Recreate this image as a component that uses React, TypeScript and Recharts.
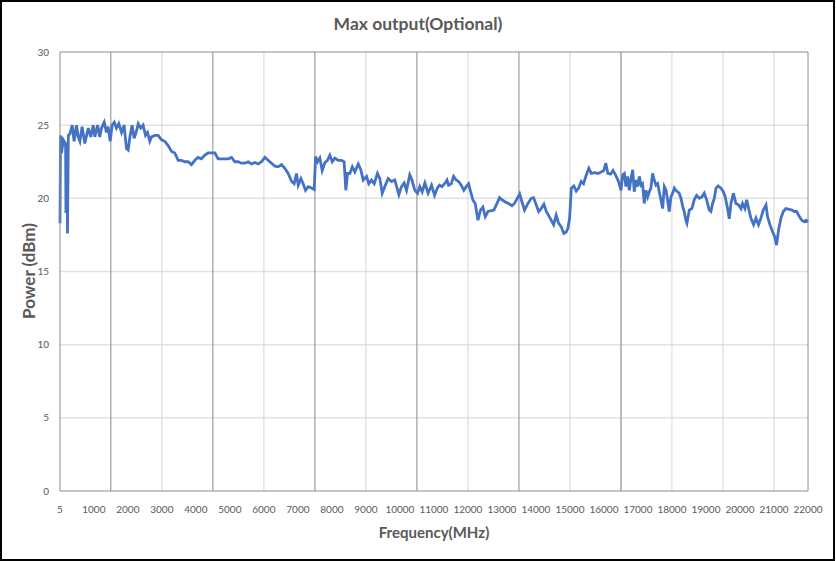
import { LineChart, Line, XAxis, YAxis, CartesianGrid } from "recharts";

const FREQ = [
  5, 20, 50, 100, 150, 170, 180, 200, 215, 225, 250, 295, 365, 420, 490, 540, 590, 655, 735, 835,
  910, 980, 1030, 1110, 1175, 1225, 1305, 1370, 1420, 1480, 1540, 1600, 1665, 1735, 1815, 1890,
  1960, 2010, 2060, 2125, 2185, 2255, 2305, 2380, 2450, 2520, 2580, 2645, 2695, 2795, 2890, 2990,
  3085, 3185, 3285, 3380, 3480, 3575, 3675, 3775, 3870, 3970, 4065, 4165, 4265, 4360, 4460, 4560,
  4655, 4755, 4850, 4950, 5050, 5145, 5245, 5340, 5440, 5540, 5635, 5735, 5835, 5930, 6030, 6125,
  6225, 6325, 6420, 6520, 6615, 6715, 6815, 6890, 6960, 7010, 7090, 7155, 7225, 7305, 7400, 7480,
  7520, 7580, 7645, 7715, 7795, 7870, 7940, 8010, 8085, 8185, 8285, 8360, 8410, 8460, 8530, 8600,
  8675, 8775, 8850, 8920, 9020, 9085, 9165, 9245, 9340, 9410, 9480, 9555, 9655, 9755, 9850, 9970,
  10045, 10125, 10195, 10290, 10340, 10440, 10520, 10585, 10655, 10735, 10830, 10930, 11020, 11100,
  11165, 11235, 11315, 11385, 11430, 11510, 11580, 11655, 11725, 11805, 11880, 11950, 12020, 12080,
  12145, 12215, 12295, 12370, 12440, 12510, 12590, 12665, 12765, 12835, 12930, 13000, 13100, 13195,
  13295, 13370, 13450, 13520, 13590, 13665, 13765, 13860, 13930, 14010, 14080, 14155, 14235, 14305,
  14370, 14450, 14520, 14595, 14665, 14745, 14820, 14890, 14940, 14990, 15040, 15115, 15185, 15255,
  15330, 15400, 15480, 15555, 15625, 15725, 15820, 15920, 15995, 16055, 16115, 16195, 16265, 16340,
  16410, 16450, 16500, 16550, 16600, 16645, 16695, 16745, 16795, 16845, 16890, 16940, 16990, 17040,
  17090, 17135, 17185, 17235, 17285, 17335, 17380, 17430, 17480, 17530, 17580, 17625, 17675, 17725,
  17775, 17825, 17870, 17920, 17970, 18020, 18070, 18115, 18215, 18265, 18315, 18360, 18410, 18440,
  18510, 18585, 18655, 18725, 18805, 18880, 18950, 19020, 19095, 19145, 19195, 19245, 19295, 19360,
  19440, 19510, 19565, 19635, 19685, 19735, 19805, 19880, 19960, 20030, 20075, 20145, 20195, 20255,
  20320, 20400, 20470, 20545, 20615, 20685, 20765, 20810, 20880, 20960, 21020, 21075, 21135, 21205,
  21275, 21350, 21450, 21525, 21595, 21665, 21745, 21820, 21890, 21940, 22000,
];

const POWER = [
  18.3, 24.3, 23.1, 24.0, 23.8, 23.5, 19.0, 23.8, 23.5, 17.6, 24.3, 24.4, 25.0, 23.9, 25.0, 24.2, 23.9, 24.9, 23.75, 24.8,
  24.2, 25.0, 24.2, 25.0, 24.2, 24.8, 25.2, 24.5, 24.9, 23.9, 25.0, 25.2, 24.8, 25.1, 24.5, 25.0,
  23.4, 23.3, 24.2, 25.0, 24.1, 24.6, 25.1, 24.8, 25.0, 24.3, 24.5, 23.9, 24.2, 24.3, 24.3, 24.0,
  23.9, 23.6, 23.2, 23.1, 22.6, 22.6, 22.5, 22.5, 22.3, 22.6, 22.8, 22.7, 22.95, 23.1, 23.1, 23.1,
  22.7, 22.7, 22.7, 22.7, 22.8, 22.5, 22.5, 22.4, 22.4, 22.5, 22.35, 22.45, 22.35, 22.5, 22.8, 22.6,
  22.4, 22.2, 22.15, 22.3, 22.05, 21.7, 21.15, 21.0, 21.7, 20.9, 21.35, 21.0, 20.55, 20.8, 20.7, 20.6,
  22.85, 22.5, 22.75, 21.9, 22.45, 22.6, 22.95, 22.5, 22.75, 22.6, 22.6, 22.5, 20.55, 21.7, 21.7, 22.15,
  21.8, 22.35, 21.95, 21.25, 21.5, 21.0, 21.25, 21.0, 21.7, 21.35, 20.35, 20.8, 21.35, 21.15, 21.25, 20.25,
  20.8, 21.05, 20.55, 21.6, 21.35, 20.55, 20.35, 20.8, 20.45, 21.05, 20.35, 20.9, 20.2, 20.7,
  20.9, 20.8, 21.0, 21.25, 20.9, 21.0, 21.5, 21.25, 21.15, 20.9, 20.55, 20.8, 21.0, 20.45,
  19.9, 19.65, 18.5, 19.2, 19.4, 18.75, 19.1, 19.15, 19.2, 19.55, 20.05, 19.9, 19.75, 19.65,
  19.5, 19.65, 20.0, 20.3, 19.75, 19.2, 19.65, 20.0, 20.05, 19.55, 19.1, 19.3, 19.6, 19.1,
  18.85, 18.5, 18.2, 18.85, 18.3, 18.05, 17.6, 17.7, 17.95, 18.65, 20.7, 20.85, 20.5, 20.7,
  21.15, 21.0, 21.6, 22.05, 21.7, 21.75, 21.7, 21.8, 21.9, 22.4, 21.7, 21.65, 21.9, 21.6,
  21.25, 21.0, 20.55, 21.6, 21.7, 20.8, 21.5, 20.55, 21.35, 21.95, 20.45, 21.25, 20.8, 21.5,
  20.9, 21.0, 19.65, 20.55, 20.1, 20.45, 20.7, 21.7, 21.25, 20.9, 21.0, 20.45, 19.9, 19.3,
  20.8, 20.55, 19.9, 19.1, 20.1, 20.35, 20.7, 20.55, 20.35, 20.0, 19.45, 19.1, 18.5, 18.3,
  19.2, 19.3, 19.9, 20.2, 20.0, 20.1, 20.35, 19.9, 19.2, 19.1, 19.65, 20.0, 20.7, 20.85,
  20.7, 20.45, 20.1, 19.3, 18.6, 19.65, 20.35, 19.65, 19.55, 19.3, 19.65, 19.3, 19.9, 19.3,
  18.65, 18.2, 18.65, 18.2, 18.65, 19.2, 19.55, 18.75, 18.2, 17.7, 17.4, 16.8, 17.85, 18.65,
  19.1, 19.3, 19.25, 19.2, 19.1, 19.1, 18.75, 18.5, 18.4, 18.5, 18.4,
];

const X_TICKS = [
  5, 1000, 2000, 3000, 4000, 5000, 6000, 7000, 8000, 9000, 10000, 11000, 12000, 13000, 14000,
  15000, 16000, 17000, 18000, 19000, 20000, 21000, 22000,
];
const Y_TICKS = [0, 5, 10, 15, 20, 25, 30];
const GRID_DARK = [1500, 4500, 7500, 10500, 13500];
const GRID_MID = [16500];
const GRID_LIGHT = [3000, 6000, 9000, 12000, 15000, 18000, 19500, 21000];

const data = FREQ.map((f, i) => ({ freq: f, power: POWER[i] }));

const TEXT = "#595959";
const FONT = "Lato, 'Open Sans', sans-serif";

export default function App() {
  return (
    <div
      style={{
        position: "absolute",
        left: 0,
        top: 0,
        width: 836,
        height: 561,
        background: "#fff",
        fontFamily: FONT,
      }}
    >
      <LineChart
        width={836}
        height={561}
        data={data}
        margin={{ top: 52, right: 28, left: 20, bottom: 40 }}
      >
        <CartesianGrid
          stroke="#e2e2e2"
          strokeWidth={1.5}
          vertical={false}
          horizontalValues={[5, 10, 15, 20, 25]}
        />
        <CartesianGrid horizontal={false} stroke="#d6d6d6" verticalValues={GRID_LIGHT} />
        <CartesianGrid horizontal={false} stroke="#a6a6a6" strokeWidth={1.5} verticalValues={GRID_MID} />
        <CartesianGrid horizontal={false} stroke="#8a8a8a" verticalValues={GRID_DARK} />
        <CartesianGrid
          stroke="#8c8c8c"
          horizontalValues={[30]}
          verticalValues={[22000]}
        />
        <XAxis
          type="number"
          dataKey="freq"
          domain={[5, 22000]}
          ticks={X_TICKS}
          interval={0}
          tickLine={false}
          axisLine={{ stroke: "#8c8c8c" }}
          tick={{ fontSize: 10, fill: TEXT, fontFamily: FONT }}
          tickMargin={9}
          height={30}
        />
        <YAxis
          type="number"
          domain={[0, 30]}
          ticks={Y_TICKS}
          interval={0}
          tickLine={false}
          axisLine={{ stroke: "#8c8c8c" }}
          tick={{ fontSize: 10, fill: TEXT, fontFamily: FONT }}
          tickMargin={5}
          width={40}
        />
        <Line
          type="linear"
          dataKey="power"
          stroke="#4472c4"
          strokeWidth={2.8}
          dot={false}
          isAnimationActive={false}
        />
      </LineChart>

      <div
        style={{
          position: "absolute",
          left: 0,
          top: 13,
          width: 836,
          textAlign: "center",
          fontSize: 17.5,
          fontWeight: 700,
          color: TEXT,
        }}
      >
        Max output(Optional)
      </div>
      <div
        style={{
          position: "absolute",
          left: 60,
          top: 523,
          width: 748,
          textAlign: "center",
          fontSize: 15,
          fontWeight: 700,
          color: TEXT,
        }}
      >
        Frequency(MHz)
      </div>
      <div
        style={{
          position: "absolute",
          left: 28,
          top: 271,
          transform: "translate(-50%, -50%) rotate(-90deg)",
          whiteSpace: "nowrap",
          fontSize: 17,
          fontWeight: 700,
          color: TEXT,
        }}
      >
        Power (dBm)
      </div>
      <div
        style={{
          position: "absolute",
          left: 0,
          top: 0,
          width: 835,
          height: 561,
          boxSizing: "border-box",
          border: "2px solid #000",
          pointerEvents: "none",
        }}
      />
    </div>
  );
}
